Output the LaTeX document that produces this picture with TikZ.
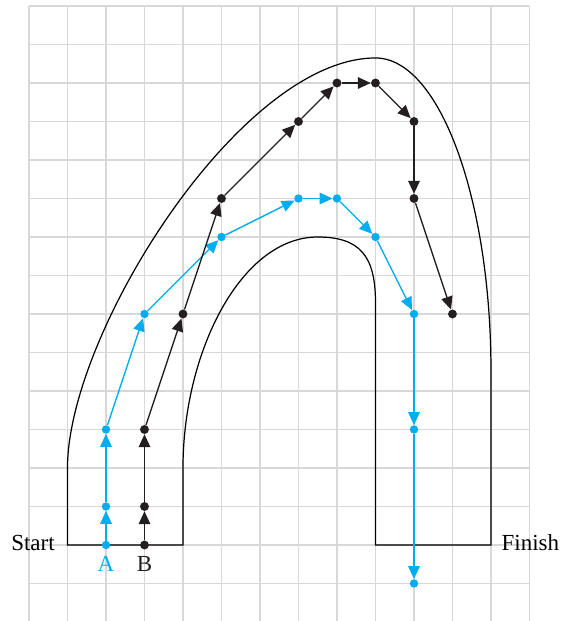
\documentclass[tikz,border=0pt]{standalone}
\usepackage{fontspec}
\setmainfont{Liberation Serif}
\usetikzlibrary{arrows.meta}
\definecolor{pathblue}{RGB}{0,173,238}
\definecolor{pathblack}{RGB}{35,31,32}
\definecolor{gridgray}{RGB}{216,216,216}
\begin{document}
\begin{tikzpicture}[
  gridline/.style={draw=gridgray, line width=1.2pt},
  wall/.style={draw=black, line width=0.9pt},
  moveA/.style={draw=pathblue, line width=1pt, -{Triangle[length=9.5pt,width=8.5pt]}},
  moveB/.style={draw=pathblack, line width=1pt, -{Triangle[length=9.5pt,width=8.5pt]}},
  dotA/.style={circle, fill=pathblue, inner sep=0pt, minimum size=6.2pt},
  dotB/.style={circle, fill=pathblack, inner sep=0pt, minimum size=6.6pt},
  lbl/.style={font=\fontsize{17}{20}\selectfont, inner sep=0pt}
]
\useasboundingbox (-0.753,-1.974) rectangle (13.818,14.156);
% grid
\foreach \x in {0,...,13} \draw[gridline] (\x,-2) -- (\x,14);
\foreach \y in {-2,...,14} \draw[gridline] (0,\y) -- (13,\y);
% track
\draw[wall] (1,0) -- (1,2) .. controls (1,5.5) and (5.5,12.65) .. (9,12.65)
  arc[start angle=90, end angle=0, x radius=3, y radius=8.15] -- (12,0) -- (9,0) -- (9,6.3)
  .. controls (9,7.5) and (8.6,8) .. (7.5,8)
  .. controls (5.5,8) and (4,5) .. (4,2) -- (4,0) -- cycle;
% dots of A
\node[dotA] (a0) at (2,0) {};
\node[dotA] (a1) at (2,1) {};
\node[dotA] (a2) at (2,3) {};
\node[dotA] (a3) at (3,6) {};
\node[dotA] (a4) at (5,8) {};
\node[dotA] (a5) at (7,9) {};
\node[dotA] (a6) at (8,9) {};
\node[dotA] (a7) at (9,8) {};
\node[dotA] (a8) at (10,6) {};
\node[dotA] (a9) at (10,3) {};
\node[dotA] (a10) at (10,-1) {};
% dots of B
\node[dotB] (b0) at (3,0) {};
\node[dotB] (b1) at (3,1) {};
\node[dotB] (b2) at (3,3) {};
\node[dotB] (b3) at (4,6) {};
\node[dotB] (b4) at (5,9) {};
\node[dotB] (b5) at (7,11) {};
\node[dotB] (b6) at (8,12) {};
\node[dotB] (b7) at (9,12) {};
\node[dotB] (b8) at (10,11) {};
\node[dotB] (b9) at (10,9) {};
\node[dotB] (b10) at (11,6) {};
% moves of A
\foreach \i/\j in {0/1,1/2,2/3,3/4,4/5,5/6,6/7,7/8,8/9,9/10}
  \draw[moveA] (a\i) -- (a\j);
% moves of B
\foreach \i/\j in {0/1,1/2,2/3,3/4,4/5,5/6,6/7,7/8,8/9,9/10}
  \draw[moveB] (b\i) -- (b\j);
% labels
\node[lbl, anchor=base east] (start) at (0.675,-0.15) {Start};
\node[lbl, anchor=base west] (finish) at (12.27,-0.15) {Finish};
\node[lbl, anchor=base, text=pathblue] (labA) at (2,-0.69) {A};
\node[lbl, anchor=base, text=pathblack] (labB) at (3,-0.69) {B};
\end{tikzpicture}
\end{document}
